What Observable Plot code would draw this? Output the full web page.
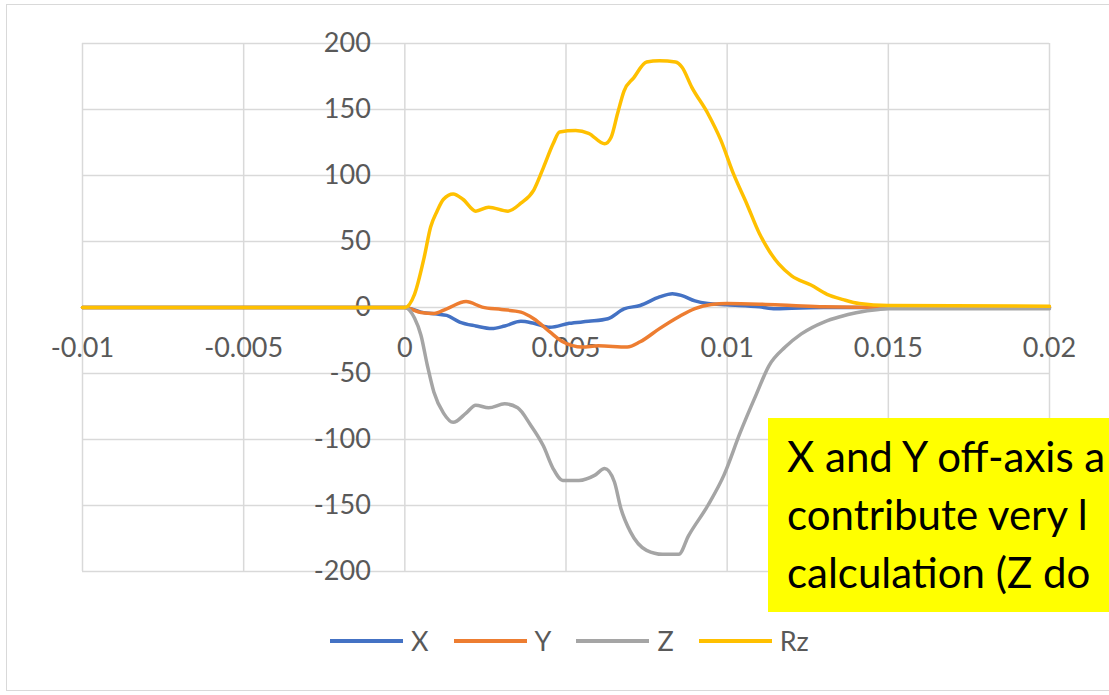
<!DOCTYPE html>
<html>
<head>
<meta charset="utf-8">
<script src="https://cdn.jsdelivr.net/npm/d3@7"></script>
<script src="https://cdn.jsdelivr.net/npm/@observablehq/plot@0.6"></script>
<style>
  html, body { margin: 0; padding: 0; background: #fff; width: 1109px; height: 695px; overflow: hidden; }
  #wrap { position: relative; width: 1109px; height: 695px; overflow: hidden; }
  #frame { position: absolute; left: 6px; top: 4px; width: 1200px; height: 687px; border: 1.5px solid #d9d9d9; box-sizing: border-box; }
  #chart { position: absolute; left: 0; top: 0; }
  #legend { position: absolute; left: 330px; top: 624px; display: flex; align-items: center; font-family: Lato, sans-serif; font-size: 27px; color: #595959; }
  .item { display: flex; align-items: center; margin-right: 25px; }
  .sw { width: 73px; height: 4px; margin-right: 8px; }
  #note { position: absolute; left: 768px; top: 418px; width: 400px; height: 194px; background: #ffff00; box-sizing: border-box; padding: 9px 0 0 19px; font-family: Lato, sans-serif; font-size: 42px; line-height: 58px; color: #000; white-space: nowrap; }
</style>
</head>
<body>
<div id="wrap">
  <div id="frame"></div>
  <div id="chart"></div>
  <div id="legend"></div>
  <div id="note"></div>
</div>
<script>
// ---- data ----
const seriesNames = ["X", "Y", "Z", "Rz"];
const seriesColors = ["#4472C4", "#ED7D31", "#A5A5A5", "#FFC000"];

const X = [
  [-0.01,0],[0,0],[0.0005,-3.5],[0.001,-5],[0.0013,-6],[0.0017,-11],[0.0022,-14],[0.0027,-16],
  [0.0031,-14],[0.0036,-10.5],[0.004,-12],[0.0045,-15],[0.0051,-12],[0.0057,-10.5],[0.0063,-8.5],
  [0.0068,-1],[0.0073,1.5],[0.0079,8],[0.0083,10.5],[0.0086,9],[0.009,5],[0.0094,3],[0.01,2],
  [0.011,0.5],[0.0115,-1],[0.012,-0.5],[0.013,0],[0.02,0]
];
const Y = [
  [-0.01,0],[0,0],[0.0005,-3.8],[0.0009,-4.5],[0.0013,-1],[0.0019,4.5],[0.0024,0.3],[0.003,-1.5],
  [0.0036,-3.5],[0.004,-8.5],[0.0045,-18.5],[0.0049,-26],[0.0055,-30],[0.006,-29],[0.0069,-30],
  [0.0073,-26],[0.0079,-16],[0.0085,-7],[0.009,-0.8],[0.0095,2.3],[0.01,3],[0.011,2.5],[0.012,1.5],
  [0.013,0.5],[0.015,0],[0.02,0]
];
const Z = [
  [-0.01,0],[0,0],[0.0003,-8],[0.0005,-21],[0.0007,-44],[0.0009,-64],[0.0012,-80],[0.0015,-87],
  [0.0019,-80],[0.0022,-74],[0.0026,-76],[0.0031,-73],[0.0035,-76],[0.0039,-89],[0.0043,-105],
  [0.0046,-122],[0.0049,-131],[0.0054,-131],[0.0059,-127],[0.0062,-122],[0.0065,-132],[0.0067,-152],
  [0.007,-170],[0.0075,-184],[0.008,-187],[0.0085,-187],[0.0088,-173],[0.0094,-150],[0.0099,-127],
  [0.0104,-95],[0.0109,-66],[0.0113,-44],[0.0118,-30],[0.0123,-20],[0.013,-11],[0.0135,-7],
  [0.014,-4],[0.0147,-1.5],[0.015,-1],[0.02,-1]
];
const Rz = [
  [-0.01,0],[0,0],[0.0003,10],[0.0006,38],[0.0008,61],[0.001,73],[0.0012,82],[0.0015,86],
  [0.0018,82],[0.0022,73],[0.0026,76],[0.0032,73],[0.0036,79],[0.004,89],[0.0043,106],[0.0046,124],
  [0.0048,133],[0.0053,134],[0.0057,132],[0.0062,124],[0.0064,129],[0.0066,147],[0.0068,164],
  [0.0071,174],[0.0075,186],[0.0079,187],[0.0084,186],[0.0086,182],[0.0089,167],[0.0094,147],
  [0.0098,127],[0.0102,101],[0.0106,79],[0.011,56],[0.0113,43],[0.0116,33],[0.012,24],[0.0126,17],
  [0.0131,10],[0.0136,6],[0.0141,3],[0.015,1.5],[0.02,1]
];

const xTicks = [-0.01, -0.005, 0, 0.005, 0.01, 0.015, 0.02];
const xTickLabels = ["-0.01", "-0.005", "0", "0.005", "0.01", "0.015", "0.02"];
const yTicks = [-200, -150, -100, -50, 0, 50, 100, 150, 200];
const yTickLabels = ["-200", "-150", "-100", "-50", "0", "50", "100", "150", "200"];

const noteLines = ["X and Y off-axis a", "contribute very l", "calculation (Z do"];

// ---- chart ----
const seriesData = [X, Y, Z, Rz];
const labelStyle = { fontSize: 27, fill: "#595959", fontFamily: "Lato, sans-serif" };

const lineMarks = seriesData.map((arr, i) =>
  Plot.line(arr, { x: d => d[0], y: d => d[1], stroke: seriesColors[i], strokeWidth: 3.5, curve: "monotone-x" })
);

const chart = Plot.plot({
  width: 1109,
  height: 600,
  marginLeft: 82,
  marginRight: 60,
  marginTop: 43,
  marginBottom: 29,
  x: { domain: [-0.01, 0.02], axis: null },
  y: { domain: [-200, 200], axis: null },
  style: { background: "transparent", fontFamily: "Lato, sans-serif" },
  marks: [
    Plot.ruleX(xTicks, { x: d => d, stroke: "#d9d9d9", strokeWidth: 1.5 }),
    Plot.ruleY(yTicks, { y: d => d, stroke: "#d9d9d9", strokeWidth: 1.5 }),
    Plot.text(xTicks, { x: d => d, y: d => 0, text: (d, i) => xTickLabels[i], dy: 41, textAnchor: "middle", lineAnchor: "middle", ...labelStyle }),
    Plot.text(yTicks, { x: d => 0, y: d => d, text: (d, i) => yTickLabels[i], dx: -34, textAnchor: "end", lineAnchor: "middle", ...labelStyle }),
    ...lineMarks
  ]
});
document.getElementById("chart").appendChild(chart);

// ---- legend ----
const legend = document.getElementById("legend");
seriesNames.forEach((name, i) => {
  const item = document.createElement("div");
  item.className = "item";
  const sw = document.createElement("div");
  sw.className = "sw";
  sw.style.background = seriesColors[i];
  const lab = document.createElement("span");
  lab.textContent = name;
  item.appendChild(sw);
  item.appendChild(lab);
  legend.appendChild(item);
});

// ---- note box ----
const note = document.getElementById("note");
noteLines.forEach(t => {
  const div = document.createElement("div");
  div.textContent = t;
  note.appendChild(div);
});
</script>
</body>
</html>
